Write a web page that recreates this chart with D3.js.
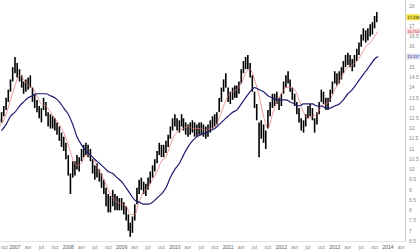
<!DOCTYPE html>
<html>
<head>
<meta charset="utf-8">
<script src="https://cdn.jsdelivr.net/npm/d3@7/dist/d3.min.js"></script>
<style>
    html, body { margin: 0; padding: 0; background: #fff; }
    svg { display: block; }
    .axis-label { font-family: "Liberation Sans", Arial, sans-serif; font-size: 5px; fill: #888; }
    .axis-label.year { fill: #555; }
    .tag-label { font-family: "Liberation Sans", Arial, sans-serif; font-size: 4px; }
</style>
</head>
<body>
<div id="chart"></div>
<script>
// price bars, one every half month from 16 Sep 2006
const firstBar = new Date(2006, 8, 16);
const priceLow = [
    12.1, 12.3, 12.6, 12.9, 13.3, 13.8, 14.3, 14.7, 14.5, 14.3, 14.0, 13.7, 13.8, 13.9, 14.0, 13.3,
    13.0, 12.8, 12.5, 12.3, 12.9, 12.6, 12.1, 12.0, 12.0, 11.9, 11.7, 11.4, 11.1, 10.9, 10.5, 9.7,
    8.8, 9.6, 9.7, 10.0, 9.9, 10.4, 10.6, 10.7, 10.6, 10.4, 9.8, 9.5, 9.6, 9.4, 9.1, 8.8,
    8.2, 7.9, 7.9, 8.2, 8.0, 8.0, 8.0, 8.0, 7.8, 7.5, 7.0, 6.7, 6.9, 7.5, 8.3, 8.8,
    9.0, 8.8, 8.7, 9.0, 9.3, 9.6, 9.9, 10.3, 10.7, 10.6, 10.6, 10.8, 11.1, 11.5, 11.9, 12.1,
    11.9, 11.8, 12.1, 11.9, 11.7, 11.6, 11.7, 11.8, 11.6, 11.6, 11.7, 11.7, 11.6, 11.5, 11.6, 11.8,
    12.0, 12.1, 12.2, 12.8, 13.3, 13.8, 14.0, 13.3, 13.2, 13.4, 13.5, 13.5, 13.7, 14.2, 14.7, 14.9,
    14.9, 14.5, 13.8, 13.0, 12.4, 10.6, 11.5, 11.3, 11.0, 12.0, 12.6, 13.0, 13.1, 13.2, 12.9, 13.1,
    13.7, 14.0, 14.2, 13.8, 13.4, 13.1, 12.7, 12.3, 11.9, 11.8, 12.1, 12.5, 12.6, 12.4, 11.8, 12.2,
    12.7, 13.3, 13.2, 12.9, 12.9, 13.3, 13.7, 14.2, 14.1, 14.2, 14.4, 14.7, 15.0, 15.1, 15.0, 14.8,
    15.0, 15.3, 15.6, 16.0, 16.3, 16.2, 16.3, 16.5, 16.6, 16.9, 17.2
];
const priceHigh = [
    12.5, 12.8, 13.1, 13.5, 13.9, 14.4, 15.0, 15.5, 15.2, 14.9, 14.6, 14.3, 14.4, 14.5, 14.6, 14.0,
    13.7, 13.4, 13.1, 13.0, 13.5, 13.3, 12.8, 12.7, 12.6, 12.5, 12.3, 12.1, 11.8, 11.6, 11.3, 10.7,
    9.8, 10.4, 10.4, 10.7, 10.6, 11.0, 11.2, 11.3, 11.2, 11.0, 10.5, 10.2, 10.3, 10.0, 9.8, 9.5,
    9.1, 8.8, 8.7, 9.0, 8.8, 8.7, 8.6, 8.6, 8.4, 8.2, 7.8, 7.4, 7.7, 8.3, 9.1, 9.5,
    9.6, 9.4, 9.3, 9.6, 9.9, 10.2, 10.5, 10.9, 11.3, 11.2, 11.2, 11.4, 11.7, 12.1, 12.5, 12.7,
    12.5, 12.4, 12.7, 12.5, 12.3, 12.2, 12.3, 12.4, 12.3, 12.2, 12.3, 12.3, 12.2, 12.1, 12.2, 12.4,
    12.6, 12.7, 12.8, 13.5, 14.0, 14.4, 14.7, 14.0, 13.8, 14.0, 14.1, 14.1, 14.3, 14.9, 15.3, 15.5,
    15.6, 15.2, 14.6, 13.8, 13.2, 12.3, 12.4, 12.2, 11.9, 12.9, 13.3, 13.7, 13.7, 13.8, 13.5, 13.7,
    14.3, 14.6, 14.8, 14.4, 14.0, 13.7, 13.3, 13.0, 12.5, 12.4, 12.7, 13.1, 13.2, 13.0, 12.5, 12.8,
    13.3, 13.9, 13.8, 13.5, 13.5, 13.9, 14.3, 14.8, 14.7, 14.8, 15.0, 15.3, 15.6, 15.7, 15.6, 15.4,
    15.6, 15.9, 16.2, 16.6, 16.9, 16.8, 16.9, 17.1, 17.2, 17.5, 17.7
];

// moving averages, read monthly from 1 Oct 2006, last point on 25 Oct 2013
const firstMonth = new Date(2006, 9, 1);
const lastMaDate = new Date(2013, 9, 25);
const maShort = [
    12.2, 12.7, 13.4,
    14.1, 14.6, 14.4, 14.1, 14.0, 13.6, 13.2, 13.1, 12.8, 12.5, 12.2, 11.8,
    11.2, 10.5, 10.2, 10.3, 10.7, 10.7, 10.4, 9.9, 9.5, 9.0, 8.6, 8.4,
    8.3, 8.2, 7.8, 7.8, 8.4, 8.9, 9.1, 9.5, 9.9, 10.4, 10.6, 11.2,
    11.7, 11.9, 12.0, 12.1, 12.0, 12.0, 12.0, 11.9, 12.0, 12.1, 12.5, 13.1,
    13.6, 13.8, 13.9, 14.2, 14.7, 14.9, 14.4, 13.6, 12.6, 12.0, 12.7, 13.3,
    13.7, 14.0, 14.0, 13.9, 13.4, 12.8, 12.5, 12.6, 12.7, 13.1, 13.2, 13.4,
    13.9, 14.3, 14.7, 15.0, 15.1, 15.3, 15.6, 16.0, 16.2, 16.5,
    16.75
];
const maLong = [
    11.9, 12.2, 12.6,
    12.8, 13.1, 13.3, 13.5, 13.6, 13.7, 13.7, 13.7, 13.6, 13.5, 13.3, 13.0,
    12.7, 12.2, 11.6, 11.2, 10.9, 10.7, 10.5, 10.3, 10.1, 9.9, 9.8, 9.6,
    9.4, 9.1, 8.8, 8.5, 8.4, 8.3, 8.3, 8.4, 8.6, 8.8, 9.1, 9.6,
    10.0, 10.3, 10.7, 11.1, 11.4, 11.6, 11.7, 11.8, 11.9, 12.0, 12.2, 12.4,
    12.6, 12.8, 12.9, 13.2, 13.5, 13.8, 14.0, 13.9, 13.8, 13.6, 13.5, 13.4,
    13.4, 13.4, 13.3, 13.2, 13.1, 13.2, 13.2, 13.2, 13.1, 13.1, 13.0, 13.0,
    13.1, 13.2, 13.4, 13.7, 13.9, 14.2, 14.5, 14.8, 15.1, 15.4,
    15.52
];

// last values shown in the tags on the right axis
const lastClose = 17.438;
const lastShort = 16.753;
const lastLong = 15.517;

const yTicks = [6.5, 7, 7.5, 8, 8.5, 9, 9.5, 10, 10.5, 11, 11.5, 12, 12.5, 13, 13.5,
    14, 14.5, 15, 15.5, 16, 16.5, 17, 17.5, 18];
const quarterNames = {3: "avr", 6: "jul", 9: "oct"};

const width = 420, height = 251;
const plot = {right: 405, bottom: 241};

const svg = d3.select("#chart").append("svg")
    .attr("width", width)
    .attr("height", height);

const x = d3.scaleTime()
    .domain([new Date(2007, 0, 1), new Date(2014, 0, 1)])
    .range([15, 388]);
const y = d3.scaleLinear()
    .domain([6.5, 18])
    .range([241, 5.8]);

svg.append("clipPath").attr("id", "plot-clip")
    .append("rect")
    .attr("x", 0).attr("y", 0)
    .attr("width", plot.right).attr("height", plot.bottom);

// axes lines
svg.append("line")
    .attr("x1", plot.right + 0.5).attr("x2", plot.right + 0.5)
    .attr("y1", 0).attr("y2", plot.bottom)
    .attr("stroke", "#ccc").attr("stroke-width", 1);
svg.append("line")
    .attr("x1", 0).attr("x2", plot.right)
    .attr("y1", plot.bottom + 0.5).attr("y2", plot.bottom + 0.5)
    .attr("stroke", "#e2e2e2").attr("stroke-width", 1);

const area = svg.append("g").attr("clip-path", "url(#plot-clip)");

const barDate = i => new Date(firstBar.getFullYear(), firstBar.getMonth() + Math.floor((i + 1) / 2), i % 2 === 0 ? 16 : 1);
const maDate = i => i < maShort.length - 1
    ? new Date(firstMonth.getFullYear(), firstMonth.getMonth() + i, 1)
    : lastMaDate;

// price bars
area.selectAll("line.bar")
    .data(priceLow.map((lo, i) => ({date: barDate(i), lo: lo, hi: priceHigh[i]})))
    .enter().append("line")
    .attr("class", "bar")
    .attr("x1", d => x(d.date)).attr("x2", d => x(d.date))
    .attr("y1", d => y(d.hi)).attr("y2", d => y(d.lo))
    .attr("stroke", "#000")
    .attr("stroke-width", 1.6);

const maLine = d3.line()
    .x((d, i) => x(maDate(i)))
    .y(d => y(d))
    .curve(d3.curveMonotoneX);

area.append("path")
    .datum(maShort)
    .attr("d", maLine)
    .attr("fill", "none")
    .attr("stroke", "#e07070")
    .attr("stroke-width", 0.7);

area.append("path")
    .datum(maLong)
    .attr("d", maLine)
    .attr("fill", "none")
    .attr("stroke", "#1c1c70")
    .attr("stroke-width", 1.2);

// value tags
const tags = [
    {value: lastLong, bg: "#dcdcf0", fg: "#22226e"},
    {value: lastShort, bg: "#f8dede", fg: "#c03030"},
    {value: lastClose, bg: "#f3dc3a", fg: "#333"}
];

// right axis labels (those under a tag are hidden, as in the original)
svg.append("g").selectAll("text")
    .data(yTicks.filter(v => tags.every(t => Math.abs(y(v) - y(t.value)) > 4.5)))
    .enter().append("text")
    .attr("class", "axis-label")
    .attr("x", plot.right + 4)
    .attr("y", d => y(d))
    .attr("dy", "0.35em")
    .text(d => d);

const tagG = svg.append("g").selectAll("g")
    .data(tags)
    .enter().append("g")
    .attr("transform", d => `translate(${plot.right + 1.5}, ${y(d.value)})`);
tagG.append("rect")
    .attr("x", 0).attr("y", -3)
    .attr("width", 13).attr("height", 6)
    .attr("fill", d => d.bg);
tagG.append("text")
    .attr("class", "tag-label")
    .attr("x", 0.8).attr("dy", "0.35em")
    .attr("fill", d => d.fg)
    .text(d => d.value.toFixed(3));

// bottom axis labels, quarterly
const quarters = d3.timeMonth.every(3).range(new Date(2006, 9, 1), new Date(2014, 4, 1));
svg.append("g").selectAll("text")
    .data(quarters)
    .enter().append("text")
    .attr("class", d => d.getMonth() === 0 ? "axis-label year" : "axis-label")
    .attr("x", d => Math.max(x(d), 4.5))
    .attr("y", 247)
    .attr("dy", "0.35em")
    .attr("text-anchor", "middle")
    .text(d => d.getMonth() === 0 ? d.getFullYear() : quarterNames[d.getMonth()]);
</script>
</body>
</html>
